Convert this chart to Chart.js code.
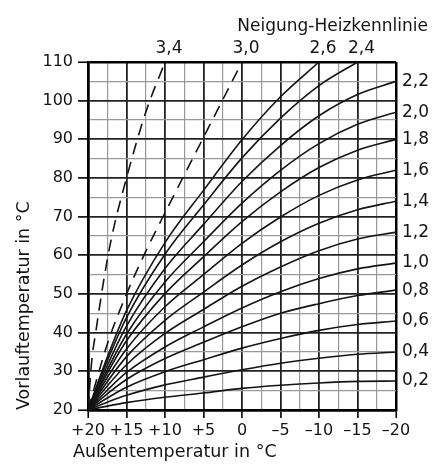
<!DOCTYPE html>
<html>
<head>
<meta charset="utf-8">
<title>Heizkennlinien</title>
<script src="https://cdn.jsdelivr.net/npm/chart.js@4.4.1/dist/chart.umd.min.js"></script>
<style>
    html, body { margin: 0; padding: 0; background: #fff; }
    #chart { display: block; }
</style>
</head>
<body>
<canvas id="chart" width="445" height="468"></canvas>
<script>
/**
 * Heizkennlinien - Vorlauftemperatur über Außentemperatur
 */

const outdoorTemps = [20, 17.5, 15, 10, 5, 0, -5, -10, -15, -20];

// Vorlauftemperatur je Neigung (°C)
const slope02 = [20, 21.0, 21.9, 23.3, 24.4, 25.6, 26.4, 27.0, 27.4, 27.5];
const slope04 = [20, 22.0, 23.8, 26.5, 28.5, 30.4, 32.1, 33.4, 34.4, 35.0];
const slope06 = [20, 23.1, 25.9, 29.9, 33.0, 36.0, 38.5, 40.6, 42.1, 43.0];
const slope08 = [20, 24.2, 27.9, 33.3, 37.5, 41.5, 45.0, 47.5, 49.6, 51.0];
const slope10 = [20, 25.1, 29.7, 36.3, 41.5, 46.4, 50.6, 54.0, 56.5, 58.0];
const slope12 = [20, 26.2, 31.7, 39.8, 46.0, 52.0, 57.0, 61.2, 64.2, 66.0];
const slope14 = [20, 27.3, 33.8, 43.2, 50.5, 57.5, 63.5, 68.3, 71.8, 74.0];
const slope16 = [20, 28.4, 35.8, 46.7, 55.0, 63.1, 69.9, 75.5, 79.5, 82.0];
const slope18 = [20, 29.5, 37.9, 50.1, 59.6, 68.7, 76.4, 82.7, 87.2, 90.0];
const slope20 = [20, 30.4, 39.6, 53.1, 63.5, 73.5, 82.0, 88.9, 93.9, 97.0];
const slope22 = [20, 31.5, 41.7, 56.6, 68.0, 79.1, 88.4, 96.1, 101.6, 105.0];
// these two leave the chart at the top (110 °C)
const slope24 = [20, 32.7, 43.9, 60.3, 73.0, 85.2, 95.5, 103.9, 110];
const slope26 = [20, 33.6, 45.7, 63.3, 76.8, 89.9, 101.0, 110];

// steep curves, dashed, with their own support points
const temps30 = [20, 17.5, 15, 12.5, 10, 5, 0];
const slope30 = [20, 37, 50, 61, 71, 90.5, 110];
const temps34 = [20, 19.5, 19, 18, 17, 15, 12.5, 10];
const slope34 = [20, 33, 40, 53, 64, 80, 97, 110];

const xTickValues = [20, 15, 10, 5, 0, -5, -10, -15, -20];
const xTickLabels = ['+20', '+15', '+10', '+5', '0', '\u20135', '\u201310', '\u201315', '\u201320'];
const yTickValues = [20, 30, 40, 50, 60, 70, 80, 90, 100, 110];

const FONT = '"DejaVu Sans", sans-serif';
const INK = '#141414';

function series(label, temps, values, dashed) {
    return {
        label: label,
        data: values.map((v, i) => ({ x: temps[i], y: v })),
        borderColor: INK,
        borderWidth: 1.6,
        borderDash: dashed ? [12, 8] : [],
        pointRadius: 0,
        fill: false,
        cubicInterpolationMode: 'monotone',
    };
}

const datasets = [
    series('0,2', outdoorTemps, slope02),
    series('0,4', outdoorTemps, slope04),
    series('0,6', outdoorTemps, slope06),
    series('0,8', outdoorTemps, slope08),
    series('1,0', outdoorTemps, slope10),
    series('1,2', outdoorTemps, slope12),
    series('1,4', outdoorTemps, slope14),
    series('1,6', outdoorTemps, slope16),
    series('1,8', outdoorTemps, slope18),
    series('2,0', outdoorTemps, slope20),
    series('2,2', outdoorTemps, slope22),
    series('2,4', outdoorTemps, slope24),
    series('2,6', outdoorTemps, slope26),
    series('3,0', temps30, slope30, true),
    series('3,4', temps34, slope34, true),
];

// Grid: heavy lines every 5 K / 10 K, light lines in between, frame in black
function gridColor(ctx, major, lo, hi) {
    const v = ctx.tick.value;
    if (v === lo || v === hi) return '#000';
    return v % major === 0 ? '#222' : '#999';
}
function gridWidth(ctx, major, lo, hi) {
    const v = ctx.tick.value;
    if (v === lo || v === hi) return 2.5;
    return v % major === 0 ? 1.8 : 1.2;
}
function tickColor(ctx, major) {
    return ctx.tick.value % major === 0 ? '#000' : 'rgba(0,0,0,0)';
}

/**
 * Curve names at the line ends, axis titles
 */
const curveLabels = {
    id: 'curveLabels',
    afterDatasetsDraw(chart) {
        const ctx = chart.ctx;
        const area = chart.chartArea;
        ctx.save();
        ctx.fillStyle = INK;
        ctx.font = '17px ' + FONT;
        ctx.textBaseline = 'middle';

        chart.data.datasets.forEach((ds, i) => {
            const pts = chart.getDatasetMeta(i).data;
            const end = pts[pts.length - 1];
            const last = ds.data[ds.data.length - 1];
            if (last.x === -20) {
                ctx.textAlign = 'left';
                ctx.fillText(ds.label, end.x + 6, end.y);
            } else {
                ctx.textAlign = 'center';
                ctx.fillText(ds.label, end.x + 4, area.top - 13);
            }
        });

        ctx.textBaseline = 'alphabetic';
        ctx.textAlign = 'right';
        ctx.fillText('Neigung-Heizkennlinie', 428, 31);

        ctx.font = '17.5px ' + FONT;
        ctx.textAlign = 'left';
        ctx.fillText('Au\u00dfentemperatur in \u00b0C', 73, 457);

        ctx.translate(29, area.bottom);
        ctx.rotate(-Math.PI / 2);
        ctx.fillText('Vorlauftemperatur in \u00b0C', 0, 0);
        ctx.restore();
    }
};

Chart.defaults.font.family = FONT;
Chart.defaults.font.size = 16;
Chart.defaults.color = INK;

new Chart(document.getElementById('chart'), {
    type: 'line',
    data: { datasets: datasets },
    options: {
        responsive: false,
        animation: false,
        devicePixelRatio: 1,
        layout: { padding: { top: 62, right: 49, left: 0, bottom: 0 } },
        plugins: {
            legend: { display: false },
            tooltip: { enabled: false },
        },
        scales: {
            x: {
                type: 'linear',
                reverse: true,
                min: -20,
                max: 20,
                afterFit: (scale) => { scale.height = 58; },
                ticks: {
                    stepSize: 2.5,
                    autoSkip: false,
                    maxRotation: 0,
                    padding: 3,
                    callback: (value) => {
                        const idx = xTickValues.indexOf(value);
                        return idx >= 0 ? xTickLabels[idx] : '';
                    },
                },
                grid: {
                    color: (ctx) => gridColor(ctx, 5, -20, 20),
                    lineWidth: (ctx) => gridWidth(ctx, 5, -20, 20),
                    tickColor: (ctx) => tickColor(ctx, 5),
                    tickLength: 8,
                    tickWidth: 1.6,
                },
                border: { color: '#000', width: 2.5 },
            },
            y: {
                min: 20,
                max: 110,
                afterFit: (scale) => { scale.width = 88; },
                ticks: {
                    stepSize: 5,
                    autoSkip: false,
                    padding: 5,
                    callback: (value) => yTickValues.includes(value) ? String(value) : '',
                },
                grid: {
                    color: (ctx) => gridColor(ctx, 10, 20, 110),
                    lineWidth: (ctx) => gridWidth(ctx, 10, 20, 110),
                    tickColor: (ctx) => tickColor(ctx, 10),
                    tickLength: 10,
                    tickWidth: 1.6,
                },
                border: { color: '#000', width: 2.5 },
            },
        },
    },
    plugins: [curveLabels],
});
</script>
</body>
</html>
